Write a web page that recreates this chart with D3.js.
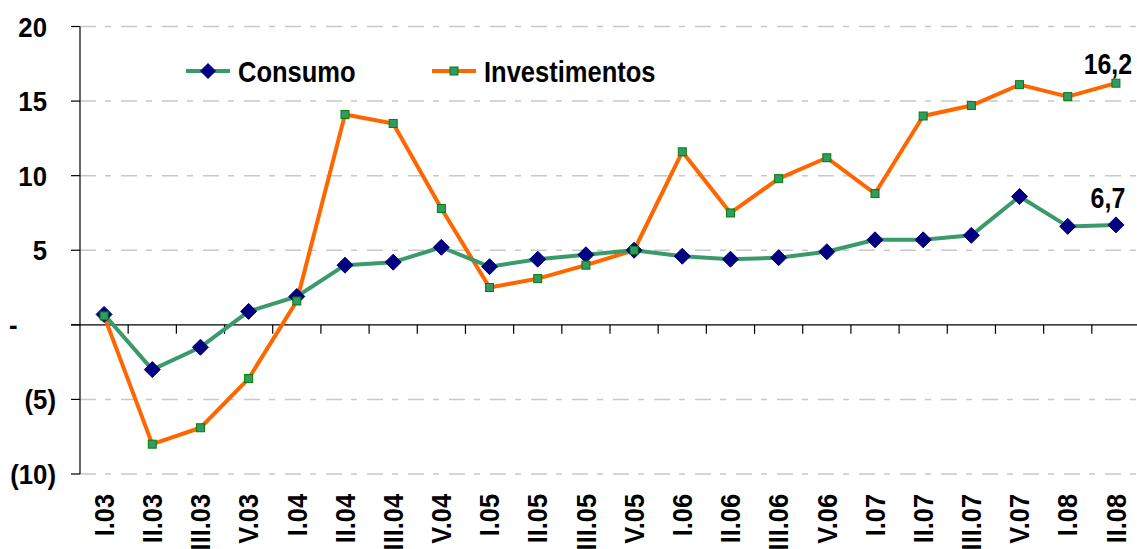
<!DOCTYPE html>
<html>
<head>
<meta charset="utf-8">
<script src="https://cdn.jsdelivr.net/npm/d3@7/dist/d3.min.js"></script>
<style>
    body { margin: 0; background: #fff; }
    svg { display: block; }
    text { font-family: 'Liberation Sans', Arial, sans-serif; font-weight: bold; fill: #000; }
</style>
</head>
<body>
<div id="chart"></div>
<script>
// data
const quarters = ['I.03', 'II.03', 'III.03', 'V.03', 'I.04', 'II.04', 'III.04', 'V.04',
    'I.05', 'II.05', 'III.05', 'V.05', 'I.06', 'II.06', 'III.06', 'V.06',
    'I.07', 'II.07', 'III.07', 'V.07', 'I.08', 'II.08'];
const consumo = [0.7, -3.0, -1.5, 0.9, 1.9, 4.0, 4.2, 5.2, 3.9, 4.4, 4.7, 5.0,
    4.6, 4.4, 4.5, 4.9, 5.7, 5.7, 6.0, 8.6, 6.6, 6.7];
const investimentos = [0.6, -8.0, -6.9, -3.6, 1.6, 14.1, 13.5, 7.8, 2.5, 3.1, 4.0, 5.0,
    11.6, 7.5, 9.8, 11.2, 8.8, 14.0, 14.7, 16.1, 15.3, 16.2];
const yTicks = [-10, -5, 0, 5, 10, 15, 20];
const seriesNames = ['Consumo', 'Investimentos'];

// dimension stuff
const width = 1137;
const height = 549;
const plotLeft = 80;
const plotRight = 1140;
const plotTop = 26.5;
const plotBottom = 474;

// scales
const scaleX = d3.scaleBand().domain(quarters).range([plotLeft, plotRight]).padding(0);
const scaleY = d3.scaleLinear().domain([-10, 20]).range([plotBottom, plotTop]);
const cx = d => scaleX(d) + scaleX.bandwidth() / 2;

// the original font is a narrow bold face, squeeze the fallback a bit
const squeeze = (x, y, sx) => `translate(${x}, ${y}) scale(${sx}, 1)`;

const $svg = d3.select('#chart').append('svg')
    .attr('width', width)
    .attr('height', height);

// dashed grid
$svg.append('g').attr('class', 'g-grid')
    .selectAll('line')
    .data(yTicks.filter(d => d !== 0))
    .join('line')
    .attr('x1', plotLeft)
    .attr('x2', width)
    .attr('y1', d => scaleY(d))
    .attr('y2', d => scaleY(d))
    .attr('stroke', '#c8c8c8')
    .attr('stroke-width', 1.5)
    .attr('stroke-dasharray', '16,9,6,10');

// y axis
const $yAxis = $svg.append('g').attr('class', 'y-axis');
$yAxis.append('line')
    .attr('x1', plotLeft).attr('x2', plotLeft)
    .attr('y1', plotTop).attr('y2', plotBottom)
    .attr('stroke', '#000').attr('stroke-width', 1.2);
$yAxis.selectAll('.tick')
    .data(yTicks)
    .join('line')
    .attr('class', 'tick')
    .attr('x1', plotLeft - 9).attr('x2', plotLeft)
    .attr('y1', d => scaleY(d)).attr('y2', d => scaleY(d))
    .attr('stroke', '#000').attr('stroke-width', 1.2);
$yAxis.selectAll('text')
    .data(yTicks)
    .join('text')
    .attr('transform', d => squeeze(d > 0 ? 47 : d < 0 ? 56 : 9, scaleY(d) + 10, 0.92))
    .attr('text-anchor', d => (d === 0 ? 'start' : 'end'))
    .style('font-size', '28px')
    .text(d => (d > 0 ? d : d < 0 ? `(${-d})` : '-'));

// zero line with ticks between quarters
const $xAxis = $svg.append('g').attr('class', 'x-axis');
$xAxis.append('line')
    .attr('x1', plotLeft - 9).attr('x2', width)
    .attr('y1', scaleY(0)).attr('y2', scaleY(0))
    .attr('stroke', '#000').attr('stroke-width', 1.2);
$xAxis.selectAll('.tick')
    .data(quarters.slice(1))
    .join('line')
    .attr('class', 'tick')
    .attr('x1', d => scaleX(d)).attr('x2', d => scaleX(d))
    .attr('y1', scaleY(0)).attr('y2', scaleY(0) + 9)
    .attr('stroke', '#000').attr('stroke-width', 1.2);

// rotated quarter labels
$svg.append('g').attr('class', 'x-labels')
    .selectAll('text')
    .data(quarters)
    .join('text')
    .attr('transform', d => `translate(${cx(d)}, 494) rotate(-90) scale(0.94, 1)`)
    .attr('text-anchor', 'end')
    .attr('dy', '0.36em')
    .style('font-size', '27px')
    .text(d => d);

// lines
const line = d3.line()
    .x((d, i) => cx(quarters[i]))
    .y(d => scaleY(d));

const $vis = $svg.append('g').attr('class', 'g-vis');
$vis.append('path')
    .datum(investimentos)
    .attr('d', line)
    .attr('fill', 'none')
    .attr('stroke', '#ff6600')
    .attr('stroke-width', 4)
    .attr('stroke-linejoin', 'round');
$vis.append('path')
    .datum(consumo)
    .attr('d', line)
    .attr('fill', 'none')
    .attr('stroke', '#3a9a6a')
    .attr('stroke-width', 4)
    .attr('stroke-linejoin', 'round');

// markers
const diamond = 'M0,-8L8,0L0,8L-8,0Z';
$vis.append('g').selectAll('path')
    .data(consumo)
    .join('path')
    .attr('transform', (d, i) => `translate(${cx(quarters[i])}, ${scaleY(d)})`)
    .attr('d', diamond)
    .attr('fill', '#000080')
    .attr('stroke', '#000080')
    .attr('stroke-width', 1);
$vis.append('g').selectAll('rect')
    .data(investimentos)
    .join('rect')
    .attr('x', (d, i) => cx(quarters[i]) - 4)
    .attr('y', d => scaleY(d) - 4)
    .attr('width', 8)
    .attr('height', 8)
    .attr('fill', '#339966')
    .attr('stroke', '#008000')
    .attr('stroke-width', 1);

// end labels
const last = quarters.length - 1;
const endLabels = [
    { value: investimentos[last], lift: 9 },
    { value: consumo[last], lift: 17 },
];
$vis.append('g').selectAll('text')
    .data(endLabels)
    .join('text')
    .attr('transform', d => squeeze(cx(quarters[last]) - 8, scaleY(d.value) - d.lift, 0.86))
    .attr('text-anchor', 'middle')
    .style('font-size', '29px')
    .text(d => String(d.value).replace('.', ','));

// legend
const legendItems = [
    { name: seriesNames[0], x: 186, color: '#3a9a6a', marker: 'diamond' },
    { name: seriesNames[1], x: 432, color: '#ff6600', marker: 'square' },
];
const $legend = $svg.append('g').attr('class', 'g-legend')
    .selectAll('g')
    .data(legendItems)
    .join('g')
    .attr('transform', d => `translate(${d.x}, 71)`);
$legend.append('line')
    .attr('x1', 0).attr('x2', 44)
    .attr('stroke', d => d.color)
    .attr('stroke-width', 4);
$legend.filter(d => d.marker === 'diamond').append('path')
    .attr('transform', 'translate(22,0)')
    .attr('d', diamond)
    .attr('fill', '#000080');
$legend.filter(d => d.marker === 'square').append('rect')
    .attr('x', 18).attr('y', -4).attr('width', 8).attr('height', 8)
    .attr('fill', '#339966').attr('stroke', '#008000');
$legend.append('text')
    .attr('transform', squeeze(52, 11, 0.88))
    .style('font-size', '29px')
    .text(d => d.name);
</script>
</body>
</html>
